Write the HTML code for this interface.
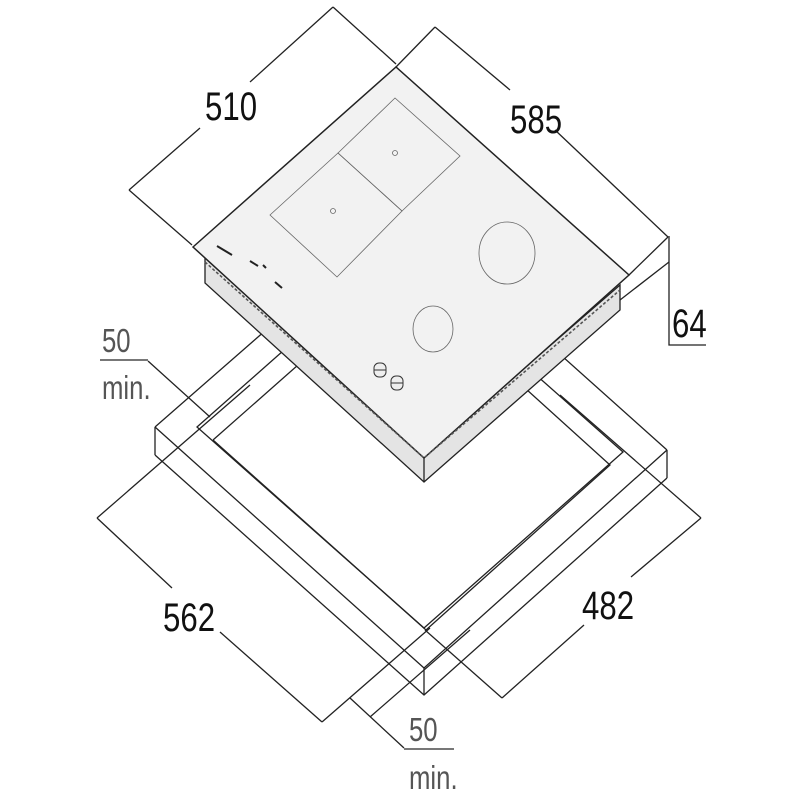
<!DOCTYPE html>
<html><head><meta charset="utf-8"><style>
html,body{margin:0;padding:0;background:#fff}
svg{display:block}
text{font-family:"Liberation Sans",sans-serif}
</style></head><body>
<svg width="800" height="800" viewBox="0 0 800 800" xmlns="http://www.w3.org/2000/svg">
<g fill="none" stroke="#222" stroke-width="1.3">
<polyline points="155,427 401,212 667,450"/>
<polyline points="155,427 424,668 667,450"/>
<line x1="155" y1="427" x2="155" y2="455"/>
<line x1="424" y1="668" x2="424" y2="695"/>
<line x1="667" y1="450" x2="667" y2="478"/>
<polyline points="155,455 424,695 667,478"/>
<polygon points="197,427 396,251 623,452 424,628"/>
<polyline points="213,440 400,275 610,465 426,630 213,440"/>
<!-- 562 dimension -->
<line x1="97" y1="518" x2="250" y2="385"/>
<line x1="97" y1="518" x2="172" y2="588"/>
<line x1="220" y1="632" x2="322" y2="722"/>
<line x1="322" y1="722" x2="430" y2="628"/>
<line x1="370" y1="717" x2="470" y2="630"/>
<!-- 482 dimension -->
<line x1="701" y1="518" x2="560" y2="395"/>
<line x1="701" y1="518" x2="631" y2="577"/>
<line x1="584" y1="625" x2="502" y2="698"/>
<line x1="502" y1="698" x2="425" y2="630"/>
<!-- 50 min bottom -->
<line x1="350" y1="698" x2="404" y2="748"/>
<!-- 50 min left -->
<line x1="148" y1="361" x2="210" y2="417"/>
<!-- 510 -->
<line x1="129" y1="190" x2="200" y2="128"/>
<line x1="250" y1="82" x2="333" y2="7"/>
<line x1="129" y1="190" x2="192" y2="245"/>
<line x1="333" y1="7" x2="396" y2="64"/>
<!-- 585 -->
<line x1="435" y1="27" x2="510" y2="90"/>
<line x1="555" y1="130" x2="668" y2="237"/>
<line x1="435" y1="27" x2="396" y2="67"/>
<line x1="668" y1="237" x2="629" y2="275"/>
<line x1="669" y1="262" x2="620" y2="300"/>
<polyline points="669,236 669,345 706,345"/>
</g>
<g stroke="#777" stroke-width="2">
<line x1="100" y1="360" x2="148" y2="360"/>
<line x1="404" y1="749" x2="454" y2="749"/>
</g>
<!-- cooktop -->
<polygon points="205,258 424,455 620,285 620,310 424,482 205,283" fill="#e4e4e4" stroke="#222" stroke-width="1.3"/>
<line x1="424" y1="455" x2="424" y2="482" stroke="#222" stroke-width="1.3"/>
<polygon points="193,247 396,67 629,275 424,458" fill="#f2f2f2" stroke="#222" stroke-width="1.5"/>
<polyline points="205,262 424,458 620,290" fill="none" stroke="#555" stroke-width="1.6" stroke-dasharray="3,2"/>
<g fill="none" stroke="#666" stroke-width="0.8">
<polygon points="270,215 338,153 402,211 337,277"/>
<polygon points="338,153 395,98 460,156 402,211"/>
<circle cx="333" cy="211" r="2.5"/>
<circle cx="395" cy="153" r="2.5"/>
<ellipse cx="507" cy="253" rx="28" ry="31"/>
<ellipse cx="433" cy="329" rx="20" ry="23"/>
</g>
<g fill="#eee" stroke="#333" stroke-width="1">
<rect x="374" y="363" width="12" height="14" rx="5"/>
<rect x="391" y="376" width="12" height="14" rx="5"/>
<line x1="374" y1="370" x2="386" y2="370"/>
<line x1="391" y1="383" x2="403" y2="383"/>
</g>
<g stroke="#222" stroke-width="2">
<line x1="217" y1="246" x2="232" y2="255"/>
<line x1="250" y1="261" x2="258" y2="266"/>
<line x1="263" y1="265" x2="266" y2="268"/>
<line x1="275" y1="282" x2="282" y2="288"/>
</g>
<g fill="#111" font-size="40">
<text x="0" y="0" transform="translate(205,120) scale(0.78,1)">510</text>
<text x="0" y="0" transform="translate(510,133) scale(0.78,1)">585</text>
<text x="0" y="0" transform="translate(672,337) scale(0.78,1)">64</text>
<text x="0" y="0" transform="translate(163,631) scale(0.78,1)">562</text>
<text x="0" y="0" transform="translate(582,619) scale(0.78,1)">482</text>
</g>
<g fill="#555" font-size="33">
<text x="0" y="0" transform="translate(102,352) scale(0.78,1)">50</text>
<text x="0" y="0" transform="translate(102,399) scale(0.78,1)">min.</text>
<text x="0" y="0" transform="translate(409,741) scale(0.78,1)">50</text>
<text x="0" y="0" transform="translate(409,789) scale(0.78,1)">min.</text>
</g>
</svg>
</body></html>
